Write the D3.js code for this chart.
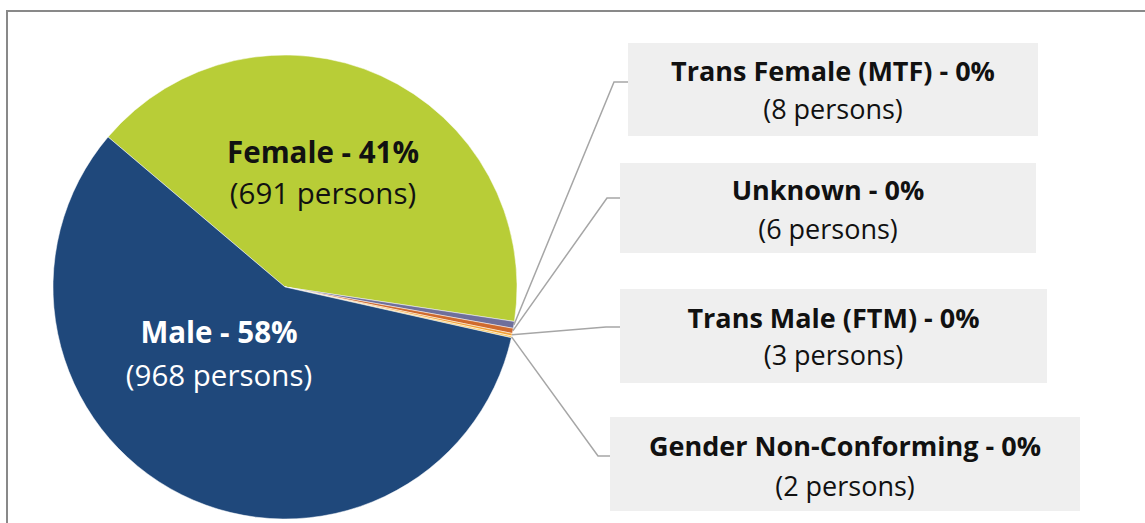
<!DOCTYPE html>
<html><head><meta charset="utf-8">
<script src="https://cdn.jsdelivr.net/npm/d3@7"></script>
<style>body{margin:0;background:#fff}svg{display:block}text{font-family:"Open Sans","Noto Sans",sans-serif}</style>
</head><body>
<svg id="c" width="1145" height="523"></svg>
<script>
const categories = ["Female","Trans Female (MTF)","Unknown","Trans Male (FTM)","Gender Non-Conforming","Male"];
const persons = [691, 8, 6, 3, 2, 968];
const percents = ["41%","0%","0%","0%","0%","58%"];
const colors = ["#b8cd37","#6e6f9b","#cf6a2d","#f2a035","#f8c24a","#1f487b"];

const svg = d3.select("#c");
const W = 1145, H = 523;
// frame
svg.append("rect").attr("x",7).attr("y",11).attr("width",W+20).attr("height",H+20)
  .attr("fill","none").attr("stroke","#898989").attr("stroke-width",2);

const cx = 285, cy = 287, R = 232;
const data = categories.map((c,i)=>({cat:c,value:persons[i],pct:percents[i],color:colors[i],i}));
const startA = -49.7*Math.PI/180;
const pie = d3.pie().value(d=>d.value).sort(null).startAngle(startA).endAngle(startA+2*Math.PI);
const arcs = pie(data);
const arc = d3.arc().innerRadius(0).outerRadius(R);
const g = svg.append("g").attr("transform",`translate(${cx},${cy})`);
g.selectAll("path").data(arcs).join("path").attr("d",arc)
  .attr("fill",d=>d.data.color).attr("stroke","#fff").attr("stroke-width",0.5);

// big labels
const bigLabels = [{i:0,x:323,y1:153,y2:194,fill:"#111"},{i:5,x:219,y1:333,y2:376,fill:"#fff"}];
bigLabels.forEach(b=>{
  const d = data[b.i];
  const t = svg.append("text").attr("text-anchor","middle").attr("fill",b.fill).attr("font-size",29.5);
  t.append("tspan").attr("x",b.x).attr("y",b.y1).attr("dy","0.35em").attr("font-weight","bold").text(`${d.cat} - ${d.pct}`);
  t.append("tspan").attr("x",b.x).attr("y",b.y2).attr("dy","0.35em").text(`(${d.value} persons)`);
});

// callout boxes
const boxes = [
  {i:1,x0:628,x1:1038,y0:43,y1:136,t1:72,t2:110,ex:614,ey:82},
  {i:2,x0:620,x1:1036,y0:163,y1:253,t1:191,t2:230,ex:607,ey:198},
  {i:3,x0:620,x1:1047,y0:289,y1:383,t1:319,t2:356,ex:606,ey:327},
  {i:4,x0:610,x1:1080,y0:417,y1:511,t1:447,t2:487,ex:598,ey:456}
];
boxes.forEach(b=>{
  const a = arcs[b.i];
  const m = (a.startAngle+a.endAngle)/2;
  const px = cx + R*Math.sin(m), py = cy - R*Math.cos(m);
  svg.append("polyline").attr("points",`${px},${py} ${b.ex},${b.ey} ${b.x0},${b.ey}`)
    .attr("fill","none").attr("stroke","#a6a6a6").attr("stroke-width",1.5);
  svg.append("rect").attr("x",b.x0).attr("y",b.y0).attr("width",b.x1-b.x0).attr("height",b.y1-b.y0).attr("fill","#efefef");
  const d = data[b.i];
  const xm = (b.x0+b.x1)/2;
  const t = svg.append("text").attr("text-anchor","middle").attr("fill","#111").attr("font-size",27);
  t.append("tspan").attr("x",xm).attr("y",b.t1).attr("dy","0.35em").attr("font-weight","bold").text(`${d.cat} - ${d.pct}`);
  t.append("tspan").attr("x",xm).attr("y",b.t2).attr("dy","0.35em").text(`(${d.value} persons)`);
});
</script>
</body></html>
